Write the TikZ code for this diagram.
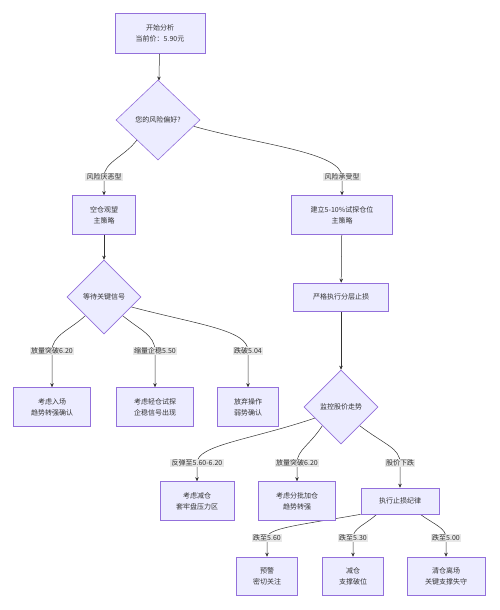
\documentclass[tikz,border=0pt]{standalone}
\usepackage{fontspec}
\setmainfont{Noto Sans CJK SC}
\usetikzlibrary{shapes.geometric,backgrounds,arrows.meta}
\definecolor{nodefill}{HTML}{ECECFF}
\definecolor{nodeline}{HTML}{9370DB}
\definecolor{edgecol}{HTML}{333333}
\definecolor{lblfill}{HTML}{E8E8E8}
\tikzset{
 box/.style={draw=nodeline, fill=nodefill, text=edgecol, line width=0.6pt, align=center, font=\fontsize{7}{11}\selectfont, inner sep=0pt},
 dia/.style={diamond, aspect=1, draw=nodeline, fill=nodefill, text=edgecol, line width=0.6pt, align=center, font=\fontsize{7}{9}\selectfont, inner sep=0pt},
 lbl/.style={fill=lblfill, text=edgecol, inner sep=1.2pt, font=\fontsize{7}{8}\selectfont},
 edge/.style={draw=edgecol, line width=0.5pt},
 arr/.style={edge, -{Stealth[length=4pt,width=3.5pt]}},
}
\begin{document}
\begin{tikzpicture}[x=1pt,y=-1pt]
\useasboundingbox (0,0) rectangle (500,610);
% nodes
\node[box, minimum width=90pt, minimum height=40pt] (start) at (160,33) {开始分析\\当前价：5.90元};
\node[dia, minimum width=84pt, minimum height=80pt] (d1) at (158,120) {您的风险偏好?};
\node[box, minimum width=63pt, minimum height=39pt] (b1) at (104,215) {空仓观望\\主策略};
\node[box, minimum width=101pt, minimum height=39pt] (b2) at (342,215) {建立5-10\%试探仓位\\主策略};
\node[dia, minimum width=74pt, minimum height=74pt] (d2) at (104,297) {等待关键信号};
\node[box, minimum width=77pt, minimum height=39pt] (c1) at (52,407) {考虑入场\\趋势转强确认};
\node[box, minimum width=77pt, minimum height=39pt] (c2) at (155,407) {考虑轻仓试探\\企稳信号出现};
\node[box, minimum width=61pt, minimum height=39pt] (c3) at (248,407) {放弃操作\\弱势确认};
\node[box, minimum width=95pt, minimum height=28pt] (s) at (341,297) {严格执行分层止损};
\node[dia, minimum width=74pt, minimum height=74pt] (d3) at (341,407) {监控股价走势};
\node[box, minimum width=74pt, minimum height=39pt] (m1) at (197,501) {考虑减仓\\套牢盘压力区};
\node[box, minimum width=77pt, minimum height=39pt] (m2) at (297,501) {考虑分批加仓\\趋势转强};
\node[box, minimum width=78pt, minimum height=26pt] (e) at (400,501) {执行止损纪律};
\node[box, minimum width=61pt, minimum height=38pt] (f1) at (267,576) {预警\\密切关注};
\node[box, minimum width=61pt, minimum height=38pt] (f2) at (353,576) {减仓\\支撑破位};
\node[box, minimum width=78pt, minimum height=38pt] (f3) at (446,576) {清仓离场\\关键支撑失守};
% labels
\node[lbl] (l1) at (104,177) {风险厌恶型};
\node[lbl] (l2) at (342,177) {风险承受型};
\node[lbl] (l3) at (52,351) {放量突破6.20};
\node[lbl] (l4) at (155,351) {缩量企稳5.50};
\node[lbl] (l5) at (248,351) {跌破5.04};
\node[lbl] (l6) at (197,463) {反弹至5.60-6.20};
\node[lbl] (l7) at (297,463) {放量突破6.20};
\node[lbl] (l8) at (400,463) {股价下跌};
\node[lbl] (l9) at (267,538) {跌至5.60};
\node[lbl] (l10) at (353,538) {跌至5.30};
\node[lbl] (l11) at (446,538) {跌至5.00};
% edges
\begin{pgfonlayer}{background}
\fill[white] (0,0) rectangle (500,610);
\draw[arr] (start) -- (d1);
\draw[arr] (d1.south west) .. controls (124,157) and (104,162) .. (l1.center) -- (b1);
\draw[arr] (d1.-10) .. controls (260,145) and (342,152) .. (l2.center) -- (b2);
\draw[arr] (b1) -- (d2);
\draw[arr] (b2) -- (s);
\draw[arr] (s) -- (d3);
\draw[arr] (d2.south west) .. controls (70,330) and (52,335) .. (l3.center) -- (c1);
\draw[arr] (d2.south east) .. controls (140,330) and (155,335) .. (l4.center) -- (c2);
\draw[arr] (d2.-20) .. controls (200,325) and (248,330) .. (l5.center) -- (c3);
\draw[arr] (d3.-157) .. controls (250,440) and (197,445) .. (l6.center) -- (m1);
\draw[arr] (d3.south west) .. controls (310,445) and (297,450) .. (l7.center) -- (m2);
\draw[arr] (d3.south east) .. controls (385,445) and (400,448) .. (l8.center) -- (e);
\draw[arr] (e.south west) .. controls (300,525) and (267,528) .. (l9.center) -- (f1);
\draw[arr] ([xshift=16pt]e.south west) .. controls (365,525) and (353,528) .. (l10.center) -- (f2);
\draw[arr] ([xshift=-19pt]e.south east) .. controls (435,525) and (446,528) .. (l11.center) -- (f3);
\end{pgfonlayer}
\end{tikzpicture}
\end{document}
